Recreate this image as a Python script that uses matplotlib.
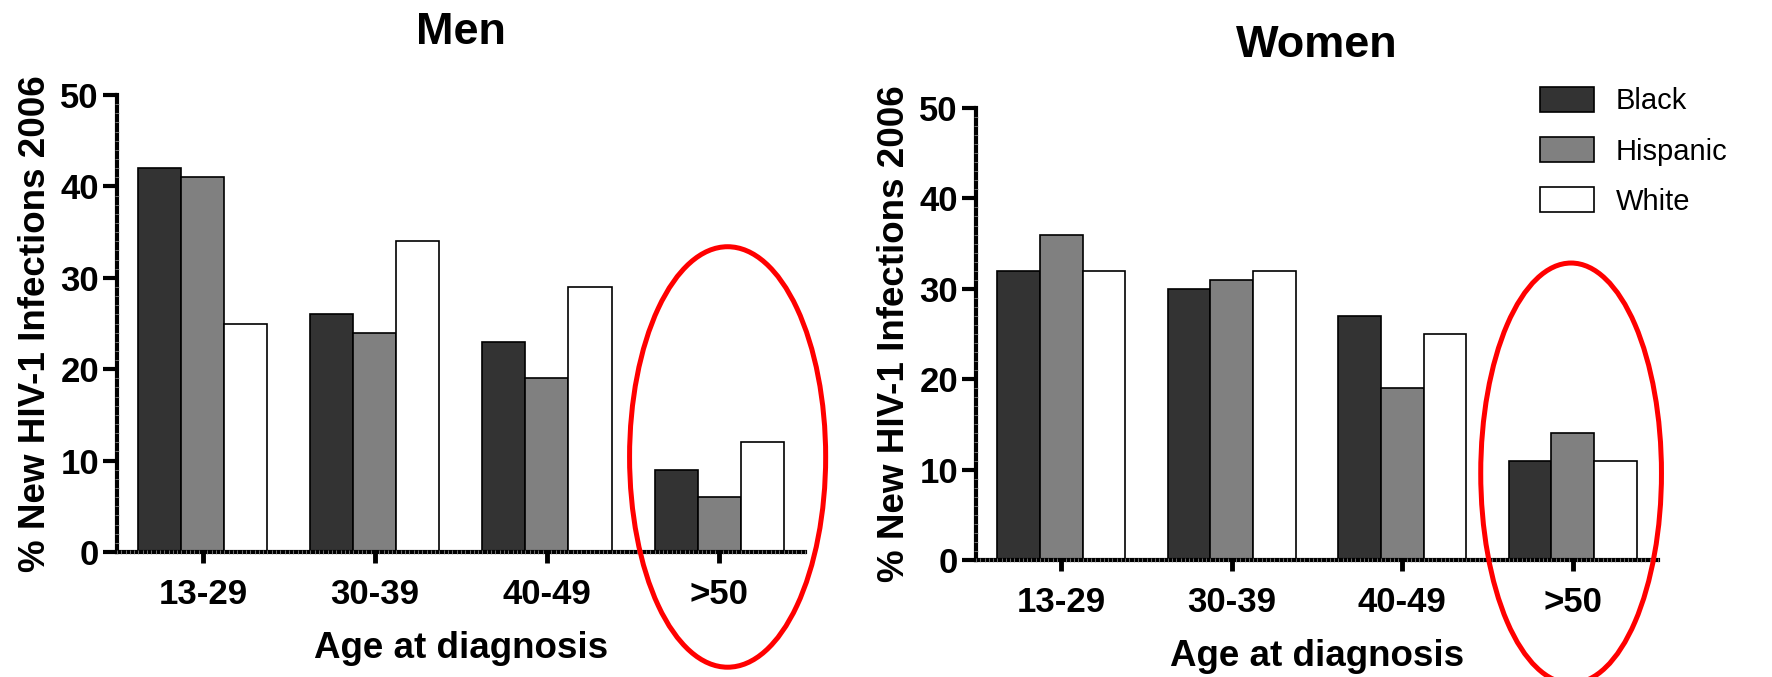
import numpy as np
import matplotlib
matplotlib.use("Agg")
import matplotlib.pyplot as plt
from matplotlib.patches import Ellipse
from matplotlib.ticker import MultipleLocator

plt.rcParams['font.family'] = ['Liberation Sans', 'DejaVu Sans']

# data
age_groups = ['13-29', '30-39', '40-49', '>50']
races = ['Black', 'Hispanic', 'White']
men_black = [42, 26, 23, 9]
men_hispanic = [41, 24, 19, 6]
men_white = [25, 34, 29, 12]
women_black = [32, 30, 27, 11]
women_hispanic = [36, 31, 19, 14]
women_white = [32, 32, 25, 11]

bar_colors = ['#333333', '#808080', '#ffffff']
bar_w = 0.25

fig = plt.figure(figsize=(17.72, 6.77), dpi=100)
ax1 = fig.add_axes([0.0660, 0.1846, 0.3883, 0.6751])
ax2 = fig.add_axes([0.5508, 0.1728, 0.3849, 0.6677])


def draw_panel(ax, series, title, ell_center, ell_w, ell_h):
    x = np.arange(len(age_groups))
    for i, vals in enumerate(series):
        ax.bar(x + (i - 1) * bar_w, vals, bar_w, color=bar_colors[i],
               edgecolor='black', linewidth=1.2, label=races[i], zorder=2)
    ax.set_xlim(-0.5, 3.5)
    ax.set_ylim(0, 50)
    ax.set_xticks(x)
    ax.set_xticklabels(age_groups, fontsize=25, fontweight='bold')
    ax.set_yticks([0, 10, 20, 30, 40, 50])
    ax.set_yticklabels(['0', '10', '20', '30', '40', '50'], fontsize=25, fontweight='bold')
    ax.yaxis.set_minor_locator(MultipleLocator(1))
    ax.xaxis.set_minor_locator(MultipleLocator(0.025))
    for s in ['top', 'right']:
        ax.spines[s].set_visible(False)
    for s in ['left', 'bottom']:
        ax.spines[s].set_linewidth(3)
    ax.tick_params(which='major', axis='y', length=10, width=3, pad=3)
    ax.tick_params(which='major', axis='x', length=8, width=3.5, pad=11)
    ax.tick_params(which='minor', direction='inout', length=3, width=0.5, color='#9a9a9a')
    ax.xaxis.set_zorder(3)
    ax.yaxis.set_zorder(3)
    ax.set_xlabel('Age at diagnosis', fontsize=26.5, fontweight='bold', labelpad=14)
    ax.set_ylabel('% New HIV-1 Infections 2006', fontsize=26.5, fontweight='bold', labelpad=5)
    ax.set_title(title, fontsize=32.5, fontweight='bold', pad=37)
    ax.add_patch(Ellipse(ell_center, ell_w, ell_h, fill=False, edgecolor='red',
                         linewidth=3.6, clip_on=False, zorder=4))


draw_panel(ax1, [men_black, men_hispanic, men_white], 'Men', (3.05, 10.4), 1.14, 46)
draw_panel(ax2, [women_black, women_hispanic, women_white], 'Women', (2.99, 9.6), 1.06, 46.5)

ax2.legend(loc='upper left', bbox_to_anchor=(0.869, 0.871), bbox_transform=fig.transFigure,
           frameon=False, fontsize=21, handlelength=1.85, handleheight=0.9,
           handletextpad=0.75, labelspacing=0.75, borderpad=0, borderaxespad=0)

fig.savefig('out.png', dpi=100)
